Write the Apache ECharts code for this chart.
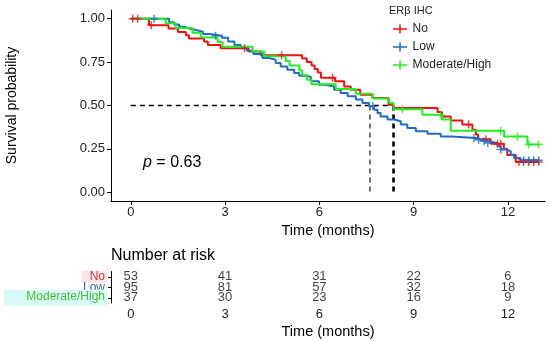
<!DOCTYPE html>
<html>
<head>
<meta charset="utf-8">
<script src="https://cdn.jsdelivr.net/npm/echarts@6/dist/echarts.min.js"></script>
<style>
html,body{margin:0;padding:0;background:#fff;}
#c{width:550px;height:341px;}
</style>
</head>
<body>
<div id="c"></div>
<script>
// ---- data ----
const groups = ['No', 'Low', 'Moderate/High'];
const xTicks = [0, 3, 6, 9, 12];
const yTicks = [0, 0.25, 0.5, 0.75, 1];

const noTime = [0, 0.58, 1.2, 1.5, 1.75, 1.85, 2.33, 2.45, 2.86, 3.75, 4.14, 5.45, 5.6, 5.75, 5.85, 5.95, 6.05, 6.5, 6.79, 7.0, 7.3, 7.69, 8.2, 8.36, 9.76, 9.9, 10.18, 10.55, 10.87, 10.98, 11.05, 11.45, 11.87, 11.98, 12.25, 12.98];
const noSurv = [1, 0.962, 0.943, 0.924, 0.905, 0.886, 0.868, 0.849, 0.830, 0.811, 0.790, 0.770, 0.750, 0.730, 0.710, 0.690, 0.660, 0.640, 0.610, 0.590, 0.562, 0.543, 0.505, 0.486, 0.462, 0.437, 0.413, 0.390, 0.360, 0.333, 0.305, 0.280, 0.250, 0.215, 0.175, 0.175];
const noCens = [0.06, 0.22, 0.65, 3.62, 4.8, 6.42, 10.75, 11.3, 11.67, 11.77, 12.35, 12.5, 12.66, 12.82, 12.98];

const lowTime = [0, 1.22, 1.38, 1.54, 1.70, 1.85, 2.07, 2.3, 2.5, 2.9, 3.1, 3.3, 3.5, 3.7, 3.9, 4.19, 4.4, 4.61, 4.77, 4.98, 5.2, 5.36, 5.57, 5.73, 5.99, 6.2, 6.47, 6.68, 6.9, 7.16, 7.37, 7.58, 7.74, 7.85, 7.95, 8.17, 8.38, 8.59, 8.8, 9.07, 9.44, 9.86, 10.2, 10.98, 11.14, 11.35, 11.67, 11.77, 11.98, 12.09, 12.2, 12.4, 12.98];
const lowSurv = [1, 0.980, 0.967, 0.954, 0.944, 0.935, 0.925, 0.912, 0.902, 0.890, 0.868, 0.849, 0.829, 0.816, 0.797, 0.774, 0.764, 0.745, 0.725, 0.706, 0.687, 0.672, 0.664, 0.639, 0.620, 0.610, 0.591, 0.572, 0.553, 0.534, 0.515, 0.495, 0.476, 0.457, 0.437, 0.419, 0.409, 0.390, 0.371, 0.351, 0.338, 0.322, 0.313, 0.303, 0.294, 0.284, 0.265, 0.246, 0.236, 0.217, 0.198, 0.185, 0.185];
const lowCens = [0.74, 2.7, 7.7, 10.92, 11.07, 11.24, 11.36, 11.77, 12.5, 12.66, 12.82, 12.98];

const modTime = [0, 1.11, 1.43, 1.96, 2.23, 2.76, 2.92, 3.87, 4.24, 4.93, 5.05, 5.36, 5.45, 5.6, 5.75, 6.52, 7.16, 7.69, 8.22, 8.36, 9.28, 9.9, 10.18, 11.88, 12.62, 12.98];
const modSurv = [1, 0.973, 0.946, 0.919, 0.892, 0.865, 0.838, 0.811, 0.784, 0.757, 0.730, 0.703, 0.676, 0.649, 0.622, 0.595, 0.568, 0.541, 0.514, 0.478, 0.447, 0.419, 0.355, 0.322, 0.275, 0.275];
const modCens = [8.64, 9.86, 11.77, 12.3, 12.66, 12.98];

const medianLow = 7.61;
const medianNoMod = 8.36;
const pText = '0.63';

const riskNo = [53, 41, 31, 22, 6];
const riskLow = [95, 81, 57, 32, 18];
const riskMod = [37, 30, 23, 16, 9];

// ---- build ----
const colors = ['#f01010', '#1f6bc6', '#22ee22'];
const labelColors = ['#b4482e', '#3a5cc8', '#4cbf3a'];
const labelBg = ['#fde2ee', 'transparent', '#d8faf6'];
const labelPad = [[0, 2, 0, 8], [0, 2, 0, 2], [1, 2, 3, 22]];

function pairs(t, s) { return t.map((v, i) => [v, s[i]]); }
function survAt(t, s, x) { let v = s[0]; for (let i = 0; i < t.length; i++) { if (t[i] <= x) v = s[i]; } return v; }
const cross = 'path://M-0.18,-1H0.18V-0.18H1V0.18H0.18V1H-0.18V0.18H-1V-0.18H-0.18Z';

const curveSets = [[noTime, noSurv, noCens], [lowTime, lowSurv, lowCens], [modTime, modSurv, modCens]];
const series = [];

// median reference lines
series.push({ type: 'line', xAxisIndex: 0, yAxisIndex: 0, data: [[0, 0.5], [medianNoMod, 0.5]], symbol: 'none', silent: true,
  lineStyle: { color: '#000', width: 1.3, type: [5, 4] }, z: 1 });
series.push({ type: 'line', xAxisIndex: 0, yAxisIndex: 0, data: [[medianLow, 0.5], [medianLow, 0]], symbol: 'none', silent: true,
  lineStyle: { color: '#000', width: 1.1, type: [5, 4] }, z: 1 });
series.push({ type: 'line', xAxisIndex: 0, yAxisIndex: 0, data: [[medianNoMod, 0.5], [medianNoMod, 0]], symbol: 'none', silent: true,
  lineStyle: { color: '#000', width: 2.6, type: [5, 4] }, z: 1 });

curveSets.forEach((cs, gi) => {
  series.push({ name: groups[gi], type: 'line', step: 'end', xAxisIndex: 0, yAxisIndex: 0, data: pairs(cs[0], cs[1]),
    symbol: 'none', color: colors[gi], lineStyle: { width: 2, color: colors[gi] }, z: 3 });
  series.push({ name: groups[gi] + ' censor', type: 'scatter', xAxisIndex: 0, yAxisIndex: 0,
    data: cs[2].map(x => [x, survAt(cs[0], cs[1], x)]), symbol: cross, symbolSize: 8,
    itemStyle: { color: colors[gi] }, z: 4 });
});

const riskSets = [riskNo, riskLow, riskMod];
riskSets.forEach((r, gi) => {
  series.push({ type: 'scatter', xAxisIndex: 1, yAxisIndex: 1, symbolSize: 0,
    data: xTicks.map((x, i) => [x, groups[gi], r[i]]),
    label: { show: true, position: 'inside', formatter: p => String(p.value[2]), color: '#111', fontSize: 13, fontFamily: 'Liberation Sans' },
    z: 5 });
});

const axisFont = { fontFamily: 'Liberation Sans' };
const richY = {};
groups.forEach((g, i) => { richY['g' + i] = { color: labelColors[i], backgroundColor: labelBg[i], fontSize: 12, lineHeight: 11, fontFamily: 'Liberation Sans', padding: labelPad[i] }; });

const option = {
  animation: false,
  backgroundColor: '#fff',
  title: [
    { text: '{i|p} = ' + pText, left: 143, top: 155, padding: 0, textStyle: { fontSize: 16, fontWeight: 'normal', color: '#000', fontFamily: 'Liberation Sans',
      rich: { i: { fontStyle: 'italic', fontSize: 16, color: '#000', fontFamily: 'Liberation Sans' } } } },
    { text: 'ERβ IHC', left: 389, top: 5, padding: 0, textStyle: { fontSize: 11, fontWeight: 'normal', color: '#222', fontFamily: 'Liberation Sans' } },
    { text: 'Number at risk', left: 111, top: 248, padding: 0, textStyle: { fontSize: 16, fontWeight: 'normal', color: '#000', fontFamily: 'Liberation Sans' } }
  ],
  legend: {
    data: groups, orient: 'vertical', left: 393, top: 23, padding: 0, itemWidth: 15, itemHeight: 9, itemGap: 6,
    icon: 'path://M0,4H15V5.6H0Z M6.7,0H8.3V9.6H6.7Z',
    textStyle: { fontSize: 12, color: '#222', fontFamily: 'Liberation Sans' }
  },
  grid: [
    { left: 111, right: 5, top: 10, height: 191, outerBoundsMode: 'none', containLabel: false },
    { left: 111, right: 5, top: 271.5, height: 31.5, outerBoundsMode: 'none', containLabel: false }
  ],
  xAxis: [
    { type: 'value', gridIndex: 0, min: -0.63, max: 13.18, splitLine: { show: false },
      axisLine: { onZero: false, lineStyle: { color: '#000', width: 1 } },
      axisTick: { customValues: xTicks, length: 4, lineStyle: { color: '#000' } },
      axisLabel: { customValues: xTicks, color: '#222', fontSize: 13, margin: 5, ...axisFont },
      name: 'Time (months)', nameLocation: 'middle', nameGap: 22, nameTextStyle: { fontSize: 14.5, color: '#000', ...axisFont } },
    { type: 'value', gridIndex: 1, min: -0.63, max: 13.18, splitLine: { show: false },
      axisLine: { onZero: false, lineStyle: { color: '#000', width: 1 } },
      axisTick: { customValues: xTicks, length: 4, lineStyle: { color: '#000' } },
      axisLabel: { customValues: xTicks, color: '#222', fontSize: 13, margin: 5, ...axisFont },
      name: 'Time (months)', nameLocation: 'middle', nameGap: 21, nameTextStyle: { fontSize: 14.5, color: '#000', ...axisFont } }
  ],
  yAxis: [
    { type: 'value', gridIndex: 0, min: -0.05, max: 1.05, splitLine: { show: false },
      axisLine: { show: true, onZero: false, lineStyle: { color: '#000', width: 1 } },
      axisTick: { show: true, customValues: yTicks, length: 4, lineStyle: { color: '#000' } },
      axisLabel: { customValues: yTicks, formatter: v => v.toFixed(2), color: '#222', fontSize: 13, margin: 6, ...axisFont },
      name: 'Survival probability', nameLocation: 'middle', nameGap: 92, nameRotate: 90,
      nameTextStyle: { fontSize: 14, color: '#000', ...axisFont } },
    { type: 'category', gridIndex: 1, data: groups, inverse: true,
      axisLine: { show: true, onZero: false, lineStyle: { color: '#000', width: 1 } },
      axisTick: { show: true, alignWithLabel: true, length: 3, lineStyle: { color: '#000' } },
      axisLabel: { margin: 4, interval: 0, formatter: (v, i) => '{g' + i + '|' + v + '}', rich: richY },
      name: 'ERβ IHC', nameLocation: 'middle', nameGap: 94, nameRotate: 90,
      nameTextStyle: { fontSize: 14.5, color: '#000', ...axisFont } }
  ],
  series: series
};

const chart = echarts.init(document.getElementById('c'), null, { renderer: 'canvas' });
chart.setOption(option);
</script>
</body>
</html>
